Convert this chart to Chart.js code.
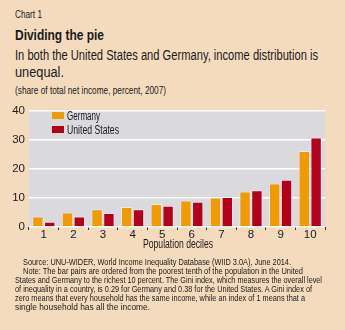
<!DOCTYPE html>
<html>
<head>
<meta charset="utf-8">
<script src="https://cdn.jsdelivr.net/npm/chart.js@4.4.0/dist/chart.umd.min.js"></script>
<style>
  body { margin: 0; background: #f4dbbe; font-family: 'Liberation Sans', Arial, sans-serif; color: #1a1a1a; }
  #page { position: relative; width: 345px; height: 330px; overflow: hidden; background: #f4dbbe; }
  .t { position: absolute; white-space: nowrap; transform-origin: 0 50%; line-height: 1; }
  #chartBox { position: absolute; left: 0; top: 100px; width: 345px; height: 150px; }
  .sw { position: absolute; width: 12px; height: 7px; }
</style>
</head>
<body>
<div id="page">
  <div class="t" data-w="27" style="left:15px;top:10px;font-size:10px;">Chart 1</div>
  <div class="t" data-w="89" style="left:15px;top:27px;font-size:15.5px;font-weight:bold;">Dividing the pie</div>
  <div class="t" data-w="303" style="left:15px;top:47.5px;font-size:14px;">In both the United States and Germany, income distribution is</div>
  <div class="t" data-w="49" style="left:15px;top:64.5px;font-size:14px;">unequal.</div>
  <div class="t" data-w="151" style="left:15px;top:86px;font-size:10px;">(share of total net income, percent, 2007)</div>
  <div id="chartBox"><canvas id="grafico"></canvas></div>
  <div class="t" data-w="70" style="left:143px;top:238px;font-size:12.5px;">Population deciles</div>
  <div class="t" data-w="268" style="left:23px;top:257.5px;font-size:9.3px;">Source: UNU-WIDER, World Income Inequality Database (WIID 3.0A), June 2014.</div>
  <div class="t" data-w="280" style="left:23px;top:266.5px;font-size:9.3px;">Note: The bar pairs are ordered from the poorest tenth of the population in the United</div>
  <div class="t" data-w="307" style="left:15px;top:276px;font-size:9.3px;">States and Germany to the richest 10 percent. The Gini index, which measures the overall level</div>
  <div class="t" data-w="297" style="left:15px;top:285px;font-size:9.3px;">of inequality in a country, is 0.29 for Germany and 0.38 for the United States. A Gini index of</div>
  <div class="t" data-w="290" style="left:15px;top:294px;font-size:9.3px;">zero means that every household has the same income, while an index of 1 means that a</div>
  <div class="t" data-w="135" style="left:15px;top:303px;font-size:9.3px;">single household has all the income.</div>
</div>
<script>
// dados
const decis = ['1', '2', '3', '4', '5', '6', '7', '8', '9', '10'];
const alemanha = [3.6, 5.0, 6.1, 6.9, 7.9, 9.1, 10.2, 12.2, 15.0, 26.2];
const eua = [1.8, 3.6, 4.8, 6.1, 7.3, 8.7, 10.3, 12.7, 16.3, 30.8];
const ticksY = [0, 10, 20, 30, 40];

const corAlemanha = '#f29b00';
const corEua = '#b5001c';
const fonte = "'Liberation Sans', Arial, sans-serif";

// ajusta a largura dos textos (fonte condensada do original)
document.querySelectorAll('.t[data-w]').forEach(el => {
  const w = el.getBoundingClientRect().width;
  el.style.transform = `scaleX(${el.dataset.w / w})`;
});

// fundo cinza da área do gráfico
const fundoArea = {
  id: 'fundoArea',
  beforeDraw(chart) {
    const { ctx, chartArea: a } = chart;
    ctx.save();
    ctx.fillStyle = '#d9d9de';
    ctx.fillRect(a.left, a.top, a.right - a.left, a.bottom - a.top);
    ctx.restore();
  }
};

const grafico = new Chart(document.getElementById('grafico'), {
  type: 'bar',
  data: {
    labels: decis,
    datasets: [
      { label: 'Germany', data: alemanha, backgroundColor: corAlemanha, borderColor: 'rgba(255,255,255,0.45)', borderWidth: 1 },
      { label: 'United States', data: eua, backgroundColor: corEua, borderColor: 'rgba(255,255,255,0.45)', borderWidth: 1 }
    ]
  },
  options: {
    responsive: true,
    maintainAspectRatio: false,
    animation: false,
    layout: { padding: { top: 7, right: 20, left: 0, bottom: 0 } },
    datasets: { bar: { categoryPercentage: 0.8, barPercentage: 0.96 } },
    plugins: { legend: { display: false }, tooltip: { enabled: false } },
    scales: {
      x: {
        grid: { offset: true, drawOnChartArea: false, drawTicks: true, tickLength: 3, color: '#333', lineWidth: 1 },
        border: { display: false },
        ticks: { color: '#1a1a1a', font: { family: fonte, size: 11.5 }, padding: -2 },
        afterFit(scale) { scale.height = 23; }
      },
      y: {
        min: 0, max: 40,
        afterBuildTicks(scale) { scale.ticks = ticksY.map(v => ({ value: v })); },
        grid: { color: '#ffffff', lineWidth: 1.5, drawTicks: false },
        border: { display: false },
        ticks: { color: '#1a1a1a', font: { family: fonte, size: 11.5 }, padding: 4 },
        afterFit(scale) { scale.width = 29; }
      }
    }
  },
  plugins: [fundoArea]
});

// legenda em HTML, montada a partir dos datasets
const pagina = document.getElementById('page');
const larguras = [33, 52];
grafico.data.datasets.forEach((ds, i) => {
  const sw = document.createElement('div');
  sw.className = 'sw';
  sw.style.cssText = `left:52px;top:${112 + i * 14}px;background:${ds.backgroundColor}`;
  pagina.appendChild(sw);
  const txt = document.createElement('div');
  txt.className = 't';
  txt.style.cssText = `left:67px;top:${109.5 + i * 14}px;font-size:12.5px;`;
  txt.textContent = ds.label;
  pagina.appendChild(txt);
  txt.style.transform = `scaleX(${larguras[i] / txt.getBoundingClientRect().width})`;
});
</script>
</body>
</html>
